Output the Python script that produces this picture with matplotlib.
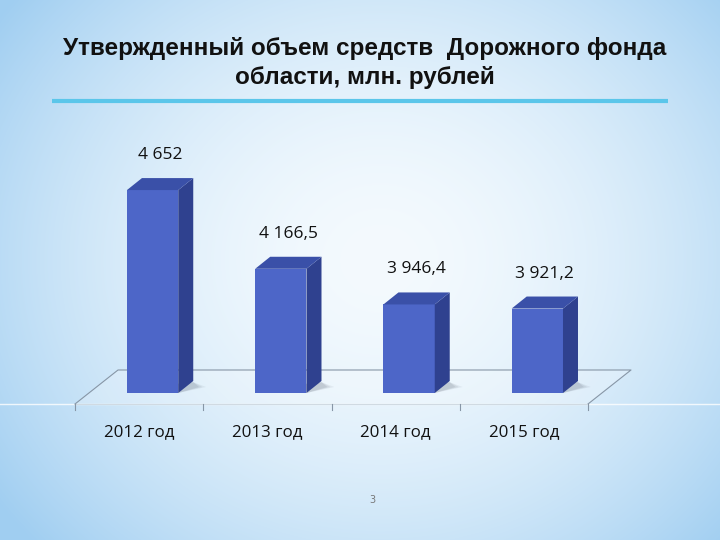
import numpy as np
import matplotlib
matplotlib.use("Agg")
import matplotlib.pyplot as plt
from matplotlib.patches import Polygon, Rectangle

# ---- data ----
categories = ["2012 год", "2013 год", "2014 год", "2015 год"]
values = [4652.0, 4166.5, 3946.4, 3921.2]
value_labels = ["4 652", "4 166,5", "3 946,4", "3 921,2"]
title = "Утвержденный объем средств  Дорожного фонда\nобласти, млн. рублей"
page_number = "3"

# ---- figure ----
W, H = 720, 540
fig = plt.figure(figsize=(7.2, 5.4), dpi=100)

# background radial gradient
bg = fig.add_axes([0, 0, 1, 1])
yy, xx = np.mgrid[0:H, 0:W]
r = np.sqrt(((xx - 380) / 470.0) ** 2 + ((yy - 260) / 420.0) ** 2)
r = np.clip(r, 0, 1)
c_in = np.array([244, 250, 254]) / 255.0
c_out = np.array([160, 206, 241]) / 255.0
t = r ** 1.8
img = c_in[None, None, :] * (1 - t[..., None]) + c_out[None, None, :] * t[..., None]
bg.imshow(img, extent=[0, W, H, 0], aspect="auto", interpolation="bilinear")
bg.set_xlim(0, W)
bg.set_ylim(H, 0)
bg.axis("off")
# decorative light horizontal line and title underline
bg.plot([0, W], [404, 404], color="white", lw=1.0, alpha=0.8)
bg.plot([52, 668], [101, 101], color="#5BC6EA", lw=3, solid_capstyle="butt")

# ---- chart axes (covering the figure, data scaled to pixels) ----
ax = fig.add_axes([0, 0, 1, 1])
ax.patch.set_alpha(0)
ax.axis("off")
base = 3400.0
vpp = 6.17            # value units per pixel
cat_px = 128.25       # pixels per category
x0_px = 75.0          # left of floor front edge
base_py = 393.0       # pixel row of bar bottom
ax.set_xlim(-0.5 - x0_px / cat_px, -0.5 + (W - x0_px) / cat_px)
ax.set_ylim(base - (H - base_py) * vpp, base + base_py * vpp)

dx = 15 / cat_px      # depth in x units
dy = 12 * vpp         # depth in value units
bw = 0.40
boff = -0.095

# floor
f_front = base - 11 * vpp
f_back = base + 23 * vpp
fshift = 43 / cat_px
n = len(categories)
floor = Polygon([(-0.5, f_front), (n - 0.5, f_front), (n - 0.5 + fshift, f_back),
                 (-0.5 + fshift, f_back)], closed=True, facecolor="white", alpha=0.2,
                edgecolor="none", zorder=1)
ax.add_patch(floor)
ax.plot([-0.5, -0.5 + fshift, n - 0.5 + fshift, n - 0.5],
        [f_front, f_back, f_back, f_front], color="#8796A6", lw=0.8, zorder=2)
ax.plot([-0.5, n - 0.5], [f_front, f_front], color="#D0DAE2", lw=0.8, zorder=2)
for k in range(n + 1):
    ax.plot([k - 0.5, k - 0.5], [f_front, f_front - 6 * vpp], color="#8796A6", lw=0.8, zorder=2)

front_c = "#4D66C8"
side_c = "#2F418F"
top_c = "#3A50A8"
for i, v in enumerate(values):
    xl = i + boff
    xr = xl + bw
    # soft shadow
    for a, s in [(0.10, 1.0), (0.12, 0.7), (0.14, 0.45)]:
        sh = Polygon([(xl + 0.03, base), (xr, base), (xr + dx + 0.10 * s, base + dy * 0.5),
                      (xr + dx, base + dy * 0.9), (xl + 0.06, base + dy * 0.4)],
                     closed=True, facecolor="#6A7484", alpha=a, edgecolor="none", zorder=2)
        ax.add_patch(sh)
    ax.add_patch(Rectangle((xl, base), bw, v - base, facecolor=front_c, edgecolor="none", zorder=3))
    ax.add_patch(Polygon([(xr, base), (xr + dx, base + dy), (xr + dx, v + dy), (xr, v)],
                         closed=True, facecolor=side_c, edgecolor="none", zorder=3))
    ax.add_patch(Polygon([(xl, v), (xr, v), (xr + dx, v + dy), (xl + dx, v + dy)],
                         closed=True, facecolor=top_c, edgecolor="none", zorder=3))
    ax.annotate(value_labels[i], (xl + bw / 2 + dx / 2, v + dy), xytext=(0, 23),
                textcoords="offset pixels", ha="center", va="center",
                fontsize=12.5, family="Open Sans", color="#111111", zorder=4)
    ax.annotate(categories[i], (i, f_front), xytext=(0, -28),
                textcoords="offset pixels", ha="center", va="center",
                fontsize=12.2, family="Open Sans", color="#111111", zorder=4)

fig.text(365 / W, 1 - 63 / H, title, ha="center", va="center", fontsize=17.5,
         fontweight="bold", family="Liberation Sans", color="#111111", linespacing=1.38)
fig.text(372 / W, 1 - 500 / H, page_number, ha="center", va="center", fontsize=7,
         color="#777777", family="DejaVu Sans")

fig.savefig("out.png", dpi=100)
